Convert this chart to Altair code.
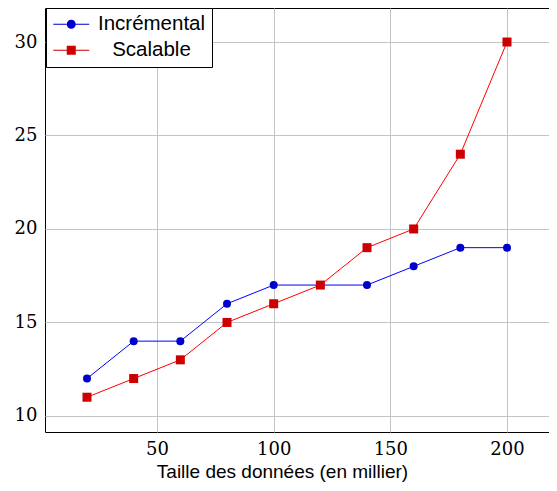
import altair as alt
import pandas as pd

x_vals = [20, 40, 60, 80, 100, 120, 140, 160, 180, 200]
incremental = [12, 14, 14, 16, 17, 17, 17, 18, 19, 19]
scalable = [11, 12, 13, 15, 16, 17, 19, 20, 24, 30]
series_names = ["Incrémental", "Scalable"]
x_ticks = [50, 100, 150, 200]
y_ticks = [10, 15, 20, 25, 30]

df_inc = pd.DataFrame({"x": x_vals, "y": incremental, "serie": series_names[0]})
df_sca = pd.DataFrame({"x": x_vals, "y": scalable, "serie": series_names[1]})
df_all = pd.concat([df_inc, df_sca])

tick_font = "DejaVu Serif"

xs = alt.Scale(domain=[2, 218], nice=False, zero=False)
ys = alt.Scale(domain=[9.14, 31.82], nice=False, zero=False)

X = alt.X("x:Q", scale=xs,
          axis=alt.Axis(values=x_ticks, title="Taille des données (en millier)",
                        labelFont=tick_font, labelFontSize=18,
                        titleX=237, titleY=45, titleBaseline="alphabetic",
                        titleAnchor="start", titleAlign="center"))
Y = alt.Y("y:Q", scale=ys, axis=alt.Axis(values=y_ticks, title=None,
                                         labelFont=tick_font, labelFontSize=18))

line_blue = alt.Chart(df_inc).mark_line(color="#0000ff", strokeWidth=1).encode(x=X, y=Y)
pts_blue = alt.Chart(df_inc).mark_point(filled=True, shape="circle", size=64,
                                        color="#0000cc", opacity=1).encode(x=X, y=Y)
line_red = alt.Chart(df_sca).mark_line(color="#ff0000", strokeWidth=1).encode(x=X, y=Y)
pts_red = alt.Chart(df_sca).mark_point(filled=True, shape="square", size=81,
                                       color="#cc0000", opacity=1).encode(x=X, y=Y)

seg = "M-1,-0.06H0.5V0.06H-1Z M1.5,-0.06H3V0.06H1.5Z "
circle_path = seg + "M1.5,0A0.5,0.5 0 1,1 0.5,0A0.5,0.5 0 1,1 1.5,0Z"
square_path = seg + "M0.5,-0.5H1.5V0.5H0.5Z"

legend_layer = alt.Chart(df_all).transform_filter("datum.x < 0").mark_point(
    filled=True, opacity=1).encode(
    x=X, y=Y,
    color=alt.Color("serie:N", scale=alt.Scale(domain=series_names, range=["#0000cc", "#cc0000"]),
                    legend=alt.Legend(title=None, orient="none", legendX=1, legendY=0,
                                      symbolSize=324, symbolOpacity=1,
                                      labelFont="Liberation Sans", labelFontSize=20.5,
                                      labelColor="black", labelAlign="center", labelOffset=79,
                                      rowPadding=5, padding=6,
                                      strokeColor="black", fillColor="white",
                                      cornerRadius=0, symbolStrokeWidth=0)),
    shape=alt.Shape("serie:N", scale=alt.Scale(domain=series_names, range=[circle_path, square_path])),
)

chart = alt.layer(line_blue, line_red, pts_blue, pts_red, legend_layer).properties(
    width=504, height=424,
    autosize=alt.AutoSizeParams(type="none"),
    padding={"left": 37, "top": 0, "right": 0, "bottom": 51},
).configure_view(stroke="black", strokeWidth=1).configure_axis(
    domain=False, ticks=False, grid=True, gridColor="#c4c4c4", gridWidth=1,
    labelFont=tick_font, labelFontSize=18, labelColor="black", labelPadding=8,
    titleFont="Liberation Sans", titleFontSize=19, titleColor="black", titleFontWeight="normal",
)

chart.save("out.html", embed_options={"renderer": "svg", "actions": False})
